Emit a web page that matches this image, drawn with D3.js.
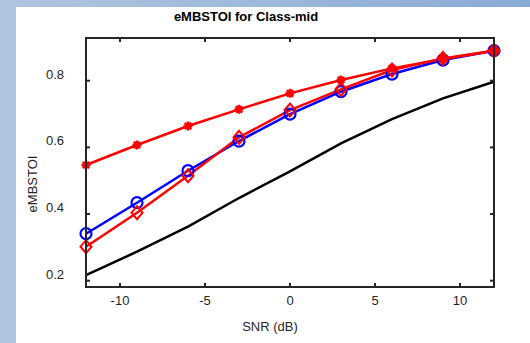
<!DOCTYPE html>
<html>
<head>
<meta charset="utf-8">
<script src="https://cdn.jsdelivr.net/npm/d3@7"></script>
<style>
  body { margin: 0; }
  svg { display: block; font-family: "Liberation Sans", Arial, sans-serif; }
</style>
</head>
<body>
<div id="chart"></div>
<script>
// --- data ---
const snr = [-12, -9, -6, -3, 0, 3, 6, 9, 12];
const starSeries = [0.547, 0.607, 0.664, 0.714, 0.762, 0.802, 0.837, 0.865, 0.89];
const circleSeries = [0.341, 0.434, 0.53, 0.619, 0.70, 0.767, 0.82, 0.862, 0.89];
const diamondSeries = [0.302, 0.404, 0.515, 0.630, 0.712, 0.774, 0.832, 0.867, 0.89];
const blackSeries = [0.217, 0.287, 0.362, 0.448, 0.528, 0.612, 0.685, 0.747, 0.797];
const xTicks = [-10, -5, 0, 5, 10];
const yTicks = [0.2, 0.4, 0.6, 0.8];

const W = 530, H = 343;
const svg = d3.select("#chart").append("svg").attr("width", W).attr("height", H);

// background: blue gradient strip + white panel
const defs = svg.append("defs");
const grad = defs.append("linearGradient").attr("id", "bg").attr("x1", 0).attr("x2", 1).attr("y1", 0).attr("y2", 0);
grad.append("stop").attr("offset", "0%").attr("stop-color", "#b1c5df");
grad.append("stop").attr("offset", "100%").attr("stop-color", "#88abd5");
svg.append("rect").attr("width", W).attr("height", H).attr("fill", "url(#bg)");
svg.append("rect").attr("x", 16).attr("y", 7).attr("width", W - 16).attr("height", H - 7).attr("fill", "#fff");

const x = d3.scaleLinear().domain([-12, 12]).range([86, 494]);
const y = d3.scaleLinear().domain([0.2, 0.8]).range([280.7, 80.7]);
const plotTop = 38, plotBottom = 287;
const axisColor = "#262626";

// lines
const line = (vals) => d3.line().x((d, i) => x(snr[i])).y(d => y(d))(vals);

svg.append("path").attr("d", line(blackSeries)).attr("fill", "none")
  .attr("stroke", "#000").attr("stroke-width", 2.5);
svg.append("path").attr("d", line(circleSeries)).attr("fill", "none")
  .attr("stroke", "#0000ff").attr("stroke-width", 2.5);
svg.append("path").attr("d", line(diamondSeries)).attr("fill", "none")
  .attr("stroke", "#ff0000").attr("stroke-width", 2.5);
svg.append("path").attr("d", line(starSeries)).attr("fill", "none")
  .attr("stroke", "#ff0000").attr("stroke-width", 2.5);

// circle markers
svg.selectAll("circle.c").data(circleSeries).enter().append("circle")
  .attr("class", "c")
  .attr("cx", (d, i) => x(snr[i])).attr("cy", d => y(d)).attr("r", 5.5)
  .attr("fill", "none").attr("stroke", "#0000ff").attr("stroke-width", 2.2);

// diamond markers (last two drawn solid)
svg.selectAll("path.dm").data(diamondSeries).enter().append("path")
  .attr("class", "dm")
  .attr("d", (d, i) => {
    const cx = x(snr[i]), cy = y(d), s = 6.5;
    return `M${cx},${cy - s}L${cx + s * 0.85},${cy}L${cx},${cy + s}L${cx - s * 0.85},${cy}Z`;
  })
  .attr("fill", (d, i) => i >= 7 ? "#ff0000" : "none")
  .attr("stroke", "#ff0000").attr("stroke-width", 2);

// asterisk markers
svg.selectAll("path.st").data(starSeries).enter().append("path")
  .attr("class", "st")
  .attr("d", (d, i) => {
    const cx = x(snr[i]), cy = y(d), s = 4.5;
    let p = "";
    for (let k = 0; k < 4; k++) {
      const a = k * Math.PI / 4;
      p += `M${cx - s * Math.cos(a)},${cy - s * Math.sin(a)}L${cx + s * Math.cos(a)},${cy + s * Math.sin(a)}`;
    }
    return p;
  })
  .attr("stroke", "#ff0000").attr("stroke-width", 2.5);

// frame
svg.append("rect").attr("x", x(-12)).attr("y", plotTop)
  .attr("width", x(12) - x(-12)).attr("height", plotBottom - plotTop)
  .attr("fill", "none").attr("stroke", axisColor).attr("stroke-width", 2);

// ticks (inward, all sides)
const tl = 4;
xTicks.forEach(t => {
  svg.append("line").attr("x1", x(t)).attr("x2", x(t)).attr("y1", plotBottom).attr("y2", plotBottom - tl)
    .attr("stroke", axisColor).attr("stroke-width", 2);
  svg.append("line").attr("x1", x(t)).attr("x2", x(t)).attr("y1", plotTop).attr("y2", plotTop + tl)
    .attr("stroke", axisColor).attr("stroke-width", 2);
  svg.append("text").attr("x", x(t)).attr("y", 305).attr("text-anchor", "middle")
    .attr("font-size", 13).attr("fill", axisColor).text(t);
});
yTicks.forEach(t => {
  svg.append("line").attr("x1", x(-12)).attr("x2", x(-12) + tl).attr("y1", y(t)).attr("y2", y(t))
    .attr("stroke", axisColor).attr("stroke-width", 2);
  svg.append("line").attr("x1", x(12)).attr("x2", x(12) - tl).attr("y1", y(t)).attr("y2", y(t))
    .attr("stroke", axisColor).attr("stroke-width", 2);
  svg.append("text").attr("x", 64).attr("y", y(t) - 2).attr("text-anchor", "end")
    .attr("font-size", 13).attr("fill", axisColor).text(t.toFixed(1));
});

// labels
svg.append("text").attr("x", 246).attr("y", 21).attr("text-anchor", "middle")
  .attr("font-size", 13).attr("font-weight", "bold").attr("fill", "#000")
  .text("eMBSTOI for Class-mid");
svg.append("text").attr("x", 270).attr("y", 331).attr("text-anchor", "middle")
  .attr("font-size", 13).attr("fill", axisColor).text("SNR (dB)");
svg.append("text").attr("transform", "translate(37,184) rotate(-90)").attr("text-anchor", "middle")
  .attr("font-size", 13).attr("fill", axisColor).text("eMBSTOI");
</script>
</body>
</html>
